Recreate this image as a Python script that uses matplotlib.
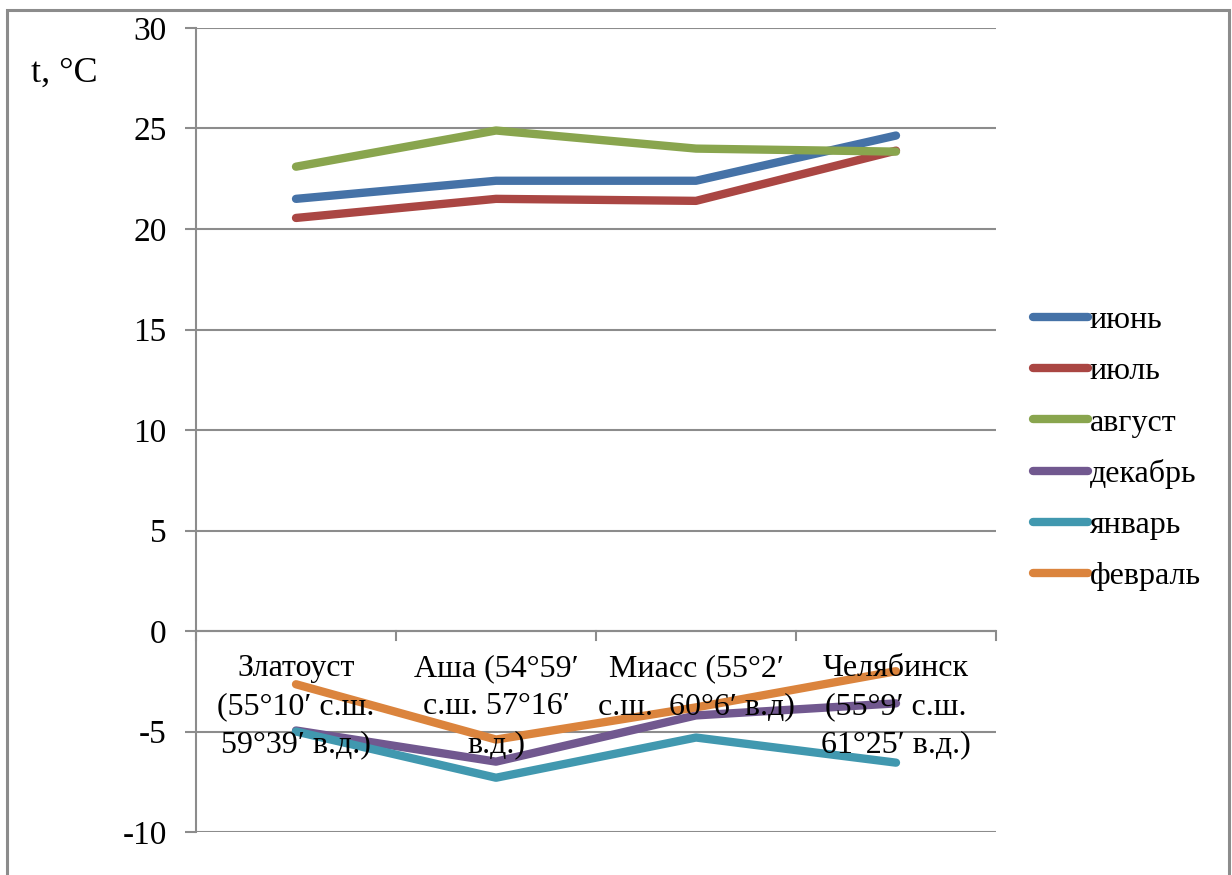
import matplotlib.pyplot as plt
from matplotlib.patches import Rectangle
import numpy as np

plt.rcParams['font.family'] = ['Liberation Serif', 'DejaVu Serif']
plt.rcParams['axes.unicode_minus'] = False

cities = [
    "Златоуст\n(55°10′ с.ш.\n59°39′ в.д.)",
    "Аша (54°59′\nс.ш. 57°16′\nв.д.)",
    "Миасс (55°2′\nс.ш.  60°6′ в.д)",
    "Челябинск\n(55°9′ с.ш.\n61°25′ в.д.)",
]
months = ["июнь", "июль", "август", "декабрь", "январь", "февраль"]
june = [21.5, 22.4, 22.4, 24.65]
july = [20.55, 21.5, 21.4, 23.9]
august = [23.1, 24.9, 24.0, 23.85]
december = [-4.95, -6.5, -4.2, -3.6]
january = [-5.0, -7.3, -5.3, -6.55]
february = [-2.65, -5.4, -3.8, -2.0]
colors = ["#4572A7", "#AA4643", "#89A54E", "#71588F", "#4198AF", "#DB843D"]

FS = 23
LW = 6

W, H = 1232, 875
fig = plt.figure(figsize=(W / 100, H / 100), dpi=100)
ax = fig.add_axes([196 / W, 1 - 832 / H, 800 / W, 804 / H])

# outer chart frame
fig.patches.append(Rectangle((7 / W, -0.05), 1222 / W, 1.05 - 10 / H,
                             transform=fig.transFigure, fill=False,
                             edgecolor="#8c8c8c", linewidth=2.2, zorder=0))

x = np.arange(len(cities))
series = [june, july, august, december, january, february]
for vals, name, c in zip(series, months, colors):
    ax.plot(x, vals, color=c, linewidth=LW, solid_capstyle="round",
            solid_joinstyle="round", label=name, zorder=3)

ax.set_xlim(-0.5, len(cities) - 0.5)
ax.set_ylim(-10, 30)
ax.set_yticks(np.arange(-10, 31, 5))
ax.yaxis.grid(True, color="#8c8c8c", linewidth=1.5)
ax.set_axisbelow(True)
for s in ["top", "right", "bottom"]:
    ax.spines[s].set_visible(False)
ax.spines["left"].set_color("#8c8c8c")
ax.spines["left"].set_linewidth(1.5)
ax.tick_params(axis="y", length=8, width=1.5, color="#8c8c8c",
               labelsize=24, pad=13)
ax.set_xticks([])

# category axis at zero with boundary ticks
ax.axhline(0, color="#8c8c8c", linewidth=1.5, zorder=2)
for b in np.arange(-0.5, len(cities), 1.0):
    ax.plot([b, b], [0, -0.45], color="#8c8c8c", linewidth=1.5,
            clip_on=False, zorder=2)
for xi, lab in zip(x, cities):
    ax.text(xi, -1.15, lab, ha="center", va="top", fontsize=FS,
            linespacing=1.42, zorder=5)

fig.text(31 / W, 1 - 73 / H, "t, °C", fontsize=26, va="center", ha="left")

leg = ax.legend(loc="upper left", bbox_to_anchor=(1033 / W, 1 - 306 / H),
                bbox_transform=fig.transFigure, frameon=False, fontsize=FS,
                handlelength=1.72, handletextpad=0.05, labelspacing=0.68,
                borderaxespad=0, borderpad=0)
for line in leg.get_lines():
    line.set_linewidth(LW)
    line.set_solid_capstyle("round")

fig.savefig("out.png", dpi=100)
